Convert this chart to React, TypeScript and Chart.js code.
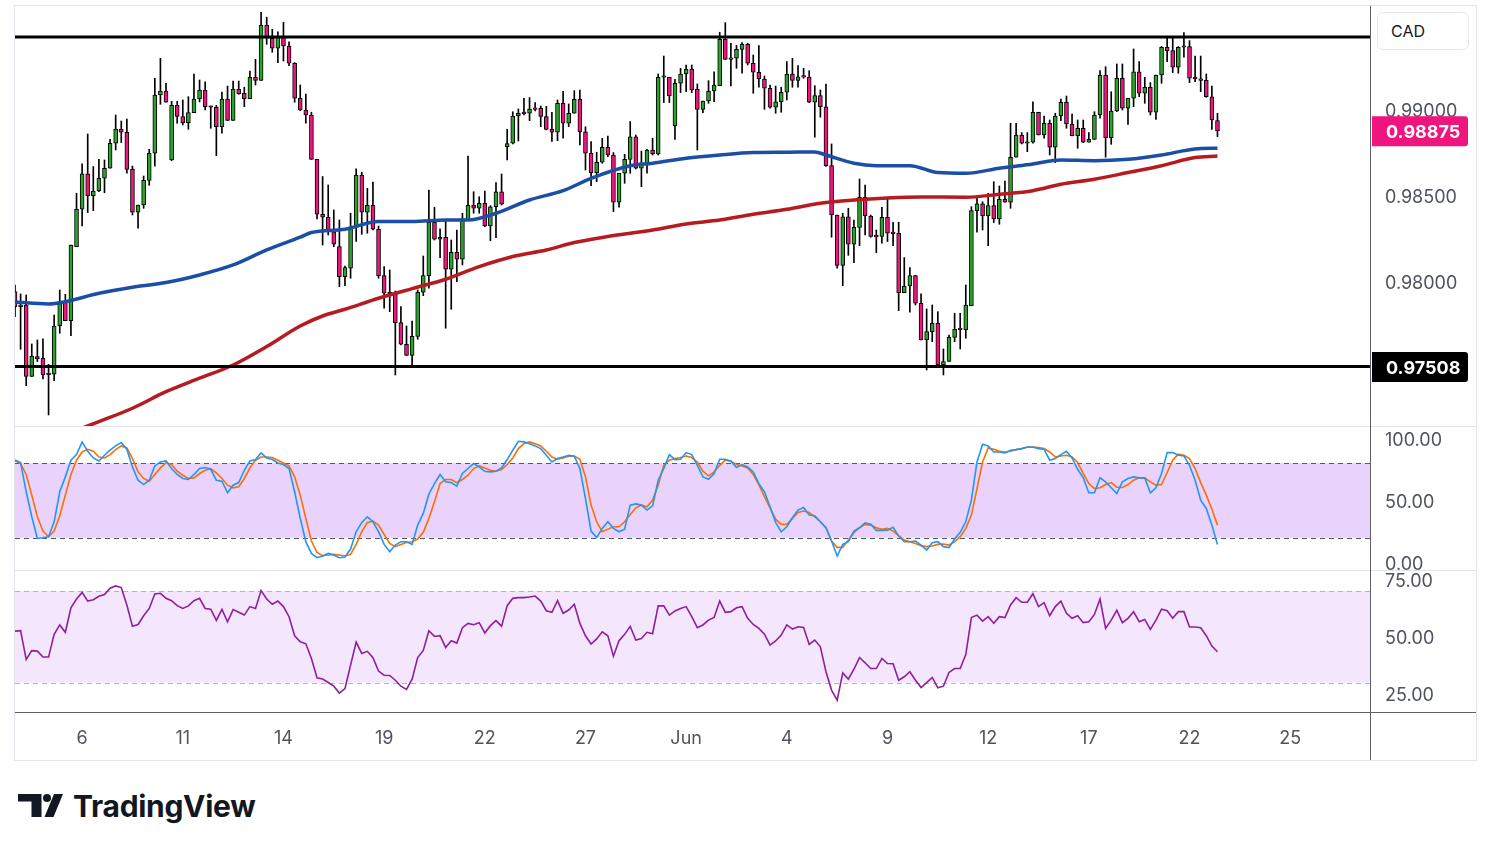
import React, { useEffect, useRef } from 'react';
import { Chart, registerables } from 'chart.js';
Chart.register(...registerables);

// ---------- DATA ----------
const openPrices = [
  0.97942,0.97855,0.97865,0.97450,0.97565,0.97556,0.97463,0.97463,0.97743,0.97880,
  0.97774,0.98203,0.98420,0.98625,0.98499,0.98526,0.98600,0.98658,0.98803,0.98886,
  0.98867,0.98652,0.98403,0.98445,0.98588,0.98745,0.99083,0.99106,0.98706,0.99023,
  0.98958,0.98923,0.98981,0.99060,0.99112,0.99019,0.99012,0.98899,0.99060,0.98936,
  0.99116,0.99093,0.99062,0.99186,0.99168,0.99489,0.99412,0.99354,0.99418,0.99367,
  0.99267,0.99064,0.98996,0.98967,0.98710,0.98391,0.98374,0.98290,0.98203,0.98029,
  0.98078,0.98319,0.98619,0.98403,0.98443,0.98304,0.98035,0.97937,0.97929,0.97763,
  0.97637,0.97573,0.97683,0.97939,0.98035,0.98345,0.98246,0.98258,0.98072,0.98171,
  0.98130,0.98358,0.98443,0.98426,0.98455,0.98323,0.98435,0.98521,0.98783,0.98803,
  0.98961,0.98977,0.98977,0.99006,0.99006,0.98958,0.98884,0.98867,0.99035,0.98919,
  0.98977,0.99058,0.98870,0.98745,0.98633,0.98693,0.98780,0.98735,0.98461,0.98629,
  0.98710,0.98841,0.98658,0.98687,0.98764,0.98741,0.99186,0.99186,0.98905,0.99151,
  0.99205,0.99232,0.99116,0.99000,0.99048,0.99106,0.99137,0.99406,0.99290,0.99296,
  0.99348,0.99377,0.99267,0.99215,0.99176,0.99122,0.99012,0.99044,0.99099,0.99205,
  0.99168,0.99189,0.99187,0.99041,0.99079,0.99015,0.98673,0.98387,0.98095,0.98377,
  0.98217,0.98315,0.98490,0.98381,0.98262,0.98262,0.98374,0.98281,0.98281,0.97937,
  0.97975,0.98035,0.97875,0.97662,0.97710,0.97759,0.97517,0.97537,0.97677,0.97724,
  0.97720,0.97861,0.98412,0.98451,0.98381,0.98441,0.98364,0.98478,0.98461,0.98722,
  0.98851,0.98803,0.98809,0.98983,0.98851,0.98919,0.98780,0.98961,0.99041,0.98915,
  0.98847,0.98890,0.98809,0.98826,0.98967,0.99199,0.98836,0.98990,0.99180,0.99006,
  0.99064,0.99218,0.99093,0.99128,0.98983,0.99199,0.99360,0.99340,0.99244,0.99360,
  0.99364,0.99180,0.99174,0.99168,0.99073,0.98934,
];
const highPrices = [
  0.97981,0.97929,0.97923,0.97639,0.97662,0.97668,0.97521,0.97807,0.97952,0.97927,
  0.98213,0.98513,0.98683,0.98857,0.98668,0.98710,0.98706,0.98826,0.98967,0.98932,
  0.98944,0.98671,0.98445,0.98613,0.98768,0.99180,0.99296,0.99151,0.99046,0.99046,
  0.99054,0.99073,0.99205,0.99170,0.99160,0.99019,0.99023,0.99100,0.99135,0.99164,
  0.99164,0.99128,0.99222,0.99290,0.99563,0.99534,0.99464,0.99450,0.99505,0.99391,
  0.99271,0.99141,0.99089,0.98983,0.98710,0.98610,0.98561,0.98416,0.98358,0.98091,
  0.98397,0.98654,0.98635,0.98542,0.98578,0.98323,0.98087,0.98068,0.97946,0.97855,
  0.97743,0.97772,0.97952,0.98149,0.98532,0.98432,0.98306,0.98358,0.98242,0.98300,
  0.98397,0.98729,0.98522,0.98493,0.98526,0.98441,0.98575,0.98625,0.98884,0.98986,
  0.99002,0.99064,0.99068,0.99039,0.99019,0.99017,0.98983,0.99054,0.99104,0.99031,
  0.99108,0.99112,0.98899,0.98813,0.98751,0.98832,0.98845,0.98749,0.98629,0.98739,
  0.98929,0.98851,0.98758,0.98768,0.98832,0.99205,0.99309,0.99186,0.99174,0.99238,
  0.99257,0.99257,0.99147,0.99048,0.99166,0.99218,0.99447,0.99503,0.99383,0.99371,
  0.99387,0.99383,0.99315,0.99369,0.99193,0.99141,0.99135,0.99128,0.99277,0.99296,
  0.99253,0.99238,0.99224,0.99137,0.99112,0.99147,0.98799,0.98387,0.98397,0.98426,
  0.98358,0.98596,0.98561,0.98387,0.98300,0.98432,0.98490,0.98345,0.98345,0.98140,
  0.98082,0.98037,0.97929,0.97842,0.97865,0.97826,0.97610,0.97691,0.97817,0.97817,
  0.97981,0.98435,0.98484,0.98464,0.98513,0.98580,0.98555,0.98584,0.98919,0.98919,
  0.98865,0.98865,0.99044,0.98983,0.98961,0.98938,0.98977,0.99060,0.99077,0.98973,
  0.98938,0.98938,0.98865,0.98986,0.99224,0.99247,0.99102,0.99263,0.99263,0.99064,
  0.99350,0.99277,0.99186,0.99155,0.99199,0.99364,0.99422,0.99418,0.99364,0.99445,
  0.99398,0.99309,0.99309,0.99205,0.99135,0.98977,
];
const lowPrices = [
  0.97797,0.97608,0.97397,0.97450,0.97537,0.97436,0.97227,0.97426,0.97701,0.97774,
  0.97687,0.98203,0.98323,0.98401,0.98412,0.98522,0.98516,0.98658,0.98764,0.98807,
  0.98629,0.98387,0.98310,0.98426,0.98559,0.98671,0.99029,0.99041,0.98702,0.98919,
  0.98909,0.98884,0.98981,0.99043,0.98996,0.98890,0.98731,0.98861,0.98934,0.98936,
  0.99087,0.99015,0.99062,0.99141,0.99168,0.99377,0.99331,0.99271,0.99280,0.99253,
  0.99041,0.98992,0.98919,0.98710,0.98364,0.98213,0.98271,0.98203,0.97971,0.97977,
  0.98020,0.98233,0.98275,0.98281,0.98300,0.98020,0.97846,0.97826,0.97459,0.97633,
  0.97573,0.97513,0.97666,0.97919,0.97962,0.98242,0.98140,0.97730,0.97840,0.98000,
  0.98097,0.98354,0.98397,0.98397,0.98319,0.98238,0.98256,0.98445,0.98706,0.98799,
  0.98816,0.98967,0.98934,0.98991,0.98899,0.98880,0.98813,0.98818,0.98832,0.98899,
  0.98977,0.98793,0.98648,0.98557,0.98580,0.98687,0.98725,0.98407,0.98432,0.98571,
  0.98629,0.98654,0.98551,0.98629,0.98735,0.98735,0.99039,0.99039,0.98826,0.99097,
  0.99102,0.99097,0.98764,0.98981,0.99035,0.99044,0.99137,0.99290,0.99135,0.99238,
  0.99209,0.99257,0.99093,0.99128,0.99000,0.99006,0.98977,0.98983,0.99054,0.99128,
  0.99128,0.99180,0.99039,0.98838,0.98954,0.98668,0.98258,0.98078,0.97977,0.98153,
  0.98111,0.98209,0.98271,0.98258,0.98169,0.98223,0.98233,0.98209,0.97832,0.97937,
  0.97823,0.97865,0.97662,0.97488,0.97652,0.97513,0.97459,0.97537,0.97652,0.97610,
  0.97672,0.97861,0.98287,0.98300,0.98209,0.98343,0.98333,0.98461,0.98426,0.98722,
  0.98799,0.98754,0.98803,0.98851,0.98832,0.98735,0.98691,0.98934,0.98890,0.98845,
  0.98774,0.98807,0.98809,0.98826,0.98948,0.98722,0.98797,0.98986,0.98996,0.98913,
  0.99015,0.99073,0.99035,0.98967,0.98942,0.99151,0.99277,0.99213,0.99209,0.99302,
  0.99155,0.99160,0.99102,0.99070,0.98884,0.98841,
];
const closePrices = [
  0.97855,0.97865,0.97450,0.97569,0.97552,0.97459,0.97461,0.97743,0.97880,0.97774,
  0.98213,0.98420,0.98625,0.98499,0.98526,0.98600,0.98658,0.98803,0.98886,0.98867,
  0.98652,0.98403,0.98445,0.98588,0.98745,0.99083,0.99106,0.99041,0.99023,0.98958,
  0.98923,0.98981,0.99060,0.99112,0.99015,0.99012,0.98899,0.99060,0.98936,0.99118,
  0.99091,0.99062,0.99186,0.99168,0.99489,0.99412,0.99354,0.99418,0.99367,0.99267,
  0.99064,0.98996,0.98967,0.98710,0.98391,0.98374,0.98290,0.98217,0.98029,0.98082,
  0.98319,0.98619,0.98403,0.98443,0.98304,0.98035,0.97933,0.97929,0.97763,0.97637,
  0.97573,0.97683,0.97939,0.98035,0.98345,0.98246,0.98258,0.98072,0.98171,0.98130,
  0.98364,0.98443,0.98426,0.98455,0.98323,0.98435,0.98521,0.98449,0.98801,0.98961,
  0.98977,0.98975,0.99002,0.99000,0.98958,0.98884,0.98867,0.99035,0.98919,0.98977,
  0.99058,0.98870,0.98745,0.98633,0.98693,0.98780,0.98735,0.98461,0.98629,0.98710,
  0.98841,0.98658,0.98687,0.98764,0.98741,0.99186,0.99188,0.99079,0.99151,0.99205,
  0.99232,0.99112,0.99000,0.99048,0.99106,0.99141,0.99406,0.99290,0.99296,0.99348,
  0.99377,0.99267,0.99215,0.99176,0.99122,0.99012,0.99044,0.99099,0.99205,0.99168,
  0.99189,0.99187,0.99041,0.99079,0.99015,0.98673,0.98387,0.98095,0.98377,0.98217,
  0.98315,0.98490,0.98381,0.98262,0.98260,0.98374,0.98281,0.98279,0.97937,0.97975,
  0.98035,0.97875,0.97662,0.97710,0.97759,0.97517,0.97537,0.97677,0.97724,0.97722,
  0.97865,0.98412,0.98451,0.98381,0.98441,0.98364,0.98478,0.98461,0.98722,0.98851,
  0.98803,0.98809,0.98983,0.98851,0.98919,0.98780,0.98961,0.99041,0.98915,0.98847,
  0.98890,0.98809,0.98826,0.98967,0.99199,0.98836,0.98990,0.99180,0.99006,0.99064,
  0.99218,0.99093,0.99128,0.98983,0.99199,0.99360,0.99340,0.99244,0.99360,0.99364,
  0.99180,0.99178,0.99168,0.99073,0.98938,0.98875,
];

// moving averages (candle index, value)
const maBlueIdx = [0,6,9,15,21,27,33,39,45,51,53,59,65,71,77,81,86,92,98,103,110,114,120,126,132,138,143,145,150,154,160,165,170,176,182,187,193,199,205,211,215];
const maBlueVal = [0.97882,0.97871,0.97884,0.97933,0.97968,0.97995,0.98039,0.98097,0.98184,0.98258,
  0.98285,0.98304,0.98349,0.98349,0.98358,0.98358,0.98397,0.98474,0.98528,0.98600,
  0.98673,0.98687,0.98716,0.98735,0.98749,0.98751,0.98753,0.98735,0.98687,0.98673,
  0.98673,0.98633,0.98629,0.98658,0.98683,0.98706,0.98702,0.98710,0.98735,0.98770,0.98774];
const maRedIdx = [0,13,15,21,27,33,39,45,51,55,59,65,71,77,83,89,95,100,106,114,120,126,132,138,144,150,156,162,170,176,182,187,193,199,205,211,215];
const maRedVal = [0.96995,0.97163,0.97188,0.97266,0.97362,0.97440,0.97517,0.97624,0.97743,0.97801,
  0.97840,0.97904,0.97960,0.98014,0.98087,0.98146,0.98184,0.98227,0.98262,0.98300,
  0.98335,0.98358,0.98391,0.98420,0.98455,0.98474,0.98486,0.98492,0.98490,0.98507,
  0.98528,0.98565,0.98594,0.98633,0.98673,0.98720,0.98729];

const levels = [0.9942, 0.97508];
const lastPrice = 0.98875;

const stochK = [
  82.6,80.5,57.0,36.9,19.5,20.1,20.9,32.9,57.0,69.0,
  82.4,86.9,97.1,89.6,84.2,81.8,86.4,90.4,93.9,96.5,
  91.2,77.0,66.3,62.8,66.3,77.8,81.0,81.8,75.7,70.9,
  67.7,66.9,70.9,75.7,76.5,75.1,66.3,65.5,56.2,62.3,
  64.4,74.3,81.8,82.9,88.2,84.2,82.9,80.2,78.9,75.7,
  57.0,35.6,16.9,7.5,4.0,5.4,7.5,6.2,4.0,4.6,
  11.0,24.9,32.4,36.9,32.9,24.9,14.7,8.8,14.2,16.9,
  16.9,14.7,30.2,39.6,55.1,63.6,70.9,65.0,64.4,61.5,
  71.7,75.7,79.7,77.0,73.5,73.0,73.5,76.2,82.9,90.4,
  97.6,97.1,95.7,93.9,91.7,86.4,81.0,83.7,85.0,86.4,
  85.6,75.7,51.6,25.4,20.3,27.6,32.9,27.6,24.9,
  27.0,46.3,47.3,46.3,42.3,45.7,66.3,75.7,86.9,82.9,
  83.2,88.5,86.9,78.3,69.0,67.1,71.7,83.2,83.2,81.6,
  76.5,78.9,77.0,73.0,63.6,57.0,44.9,32.4,24.9,28.9,
  36.1,42.3,44.4,38.3,37.7,32.9,28.1,17.4,5.4,14.7,
  16.9,25.4,28.1,32.1,31.0,26.0,26.0,26.2,28.4,21.4,
  16.9,16.9,17.4,14.2,10.2,16.1,16.9,12.9,12.1,19.0,
  24.4,32.9,50.3,81.0,95.2,93.9,89.0,89.0,88.2,90.4,
  90.9,91.7,93.0,93.0,91.7,91.2,82.4,83.7,86.9,89.6,
  84.2,75.1,68.2,56.2,56.2,68.2,65.0,60.2,55.6,65.0,
  67.7,69.0,68.2,68.2,56.2,60.2,71.7,88.5,88.5,86.4,
  85.8,78.3,66.3,50.3,43.6,30.2,14.7,
];
const stochD = [
  81.8,79.7,70.9,54.3,36.9,25.4,20.9,25.4,37.7,54.3,
  70.9,82.4,89.0,91.2,89.6,85.0,84.2,86.9,90.9,93.9,
  92.2,83.7,73.0,67.7,65.5,70.9,76.2,80.5,78.9,73.5,
  70.3,67.7,68.2,71.7,74.3,75.7,72.2,67.7,62.3,60.2,
  61.0,67.7,76.2,82.4,85.0,85.0,84.5,82.4,80.2,77.8,
  69.0,54.3,35.6,17.4,8.3,5.6,6.2,6.7,6.2,5.4,
  6.7,14.7,24.9,32.4,33.4,30.2,22.8,15.5,12.9,14.7,
  16.3,16.9,19.0,24.4,35.6,48.9,63.6,66.9,66.9,64.4,
  66.9,70.3,75.7,77.8,76.2,74.3,73.5,74.9,78.9,84.2,
  91.7,95.7,97.1,95.7,93.9,89.6,85.0,83.2,84.2,85.6,
  85.8,83.2,69.0,46.3,32.9,24.9,27.0,28.9,28.9,
  32.9,38.8,44.1,46.3,44.9,50.3,62.3,78.3,82.4,83.7,
  84.5,85.8,84.5,81.0,73.5,69.8,73.0,78.3,82.4,81.6,
  78.9,77.8,76.2,70.9,62.8,53.0,44.1,35.0,30.8,30.8,
  35.6,40.4,41.5,40.4,36.9,32.9,28.1,17.4,12.3,12.3,
  18.2,24.1,28.1,30.8,30.2,28.1,26.8,27.6,25.4,21.7,
  18.2,16.9,15.5,13.7,12.9,13.4,14.7,15.0,14.2,16.9,
  20.9,27.6,38.3,59.6,81.0,92.2,91.2,89.6,89.0,89.6,
  90.9,91.7,92.8,93.0,92.5,91.7,89.0,85.0,85.8,86.4,
  85.0,80.5,71.7,63.6,59.6,60.2,62.8,64.4,60.7,60.4,
  62.8,66.3,68.2,68.2,65.0,62.3,62.8,72.5,82.4,87.2,
  86.4,83.7,75.7,64.4,54.3,43.1,30.2,
];
const rsiValues = [
  52.4,52.6,40.1,43.9,43.7,41.1,41.1,51.0,55.1,51.9,
  62.6,66.4,69.3,65.5,66.1,67.6,68.4,71.1,72.1,71.4,
  63.8,54.5,55.3,59.1,62.3,68.6,68.9,66.7,65.7,63.5,
  62.3,63.4,65.7,66.7,62.3,62.0,57.1,61.9,56.5,61.8,
  60.6,59.4,63.1,62.3,70.1,66.4,64.1,65.5,63.1,58.7,
  50.4,47.8,46.9,40.5,32.1,31.5,30.0,28.4,25.4,27.4,
  37.6,47.6,42.7,43.6,40.8,35.0,33.2,33.1,31.0,28.4,
  27.0,31.5,40.9,44.0,52.6,50.1,50.4,45.3,48.2,47.2,
  53.9,55.8,55.2,56.1,51.6,54.8,57.0,54.6,63.5,66.7,
  67.0,67.0,67.3,67.7,65.5,61.3,60.6,65.7,60.2,61.6,
  64.1,55.8,50.4,46.8,49.0,52.1,50.4,41.5,48.2,
  51.0,54.5,48.5,49.2,51.9,51.3,63.4,63.4,59.4,61.2,
  62.3,63.1,58.7,53.9,55.1,57.2,58.4,65.5,60.6,60.9,
  62.6,63.1,58.0,55.3,53.6,51.1,46.3,48.1,50.7,55.1,
  53.3,54.3,54.0,46.6,48.5,45.6,34.7,26.7,22.3,34.2,
  31.5,35.8,40.9,38.6,36.1,36.1,40.5,38.3,38.2,31.0,
  32.5,34.7,31.0,27.8,30.0,32.2,27.7,28.4,34.4,36.1,
  36.1,42.2,58.3,59.4,56.8,58.7,55.8,58.7,58.3,63.8,
  67.0,65.0,65.0,68.7,63.1,64.8,59.1,63.1,65.5,60.2,
  58.0,59.1,56.1,56.5,59.7,66.4,53.6,57.2,61.5,56.1,
  58.0,60.9,56.5,57.5,53.2,57.2,62.0,61.3,58.0,60.9,
  60.9,54.2,54.2,53.9,50.4,45.9,43.4,
];

const xTickIdx = [12, 30, 48, 66, 84, 102, 120, 138, 156, 174, 192, 210, 228];
const xTickLabels = ['6', '11', '14', '19', '22', '27', 'Jun', '4', '9', '12', '17', '22', '25'];
const priceTicks = [0.98, 0.985, 0.99];
const stochTicks = [0, 50, 100];
const rsiTicks = [25, 50, 75];
const stochBand = [20, 80];
const rsiBand = [30, 70];

// ---------- STYLE ----------
const FONT = 'Inter, "DejaVu Sans", sans-serif';
const TEXT = '#4f5260';
const GREEN = '#2ba32b';
const PINK = '#f0157e';
const X_MIN = 0;
const X_MAX = 242.45;
const AXIS_W = 105;
const LABEL_DY = 2;

const idx = closePrices.map((_, i) => i);

function yAxis(min: number, max: number, ticks: number[]) {
  return {
    type: 'linear',
    position: 'right',
    min,
    max,
    grid: { display: false, drawTicks: false },
    border: { display: false },
    afterBuildTicks: (s: any) => { s.ticks = ticks.map((v) => ({ value: v })); },
    afterFit: (s: any) => { s.width = AXIS_W; s.paddingTop = 0; s.paddingBottom = 0; },
    ticks: { display: false },
  };
}

// draws the right-hand axis labels at the scale's own pixel positions
function yLabelPlugin(id: string, ticks: number[], digits: number) {
  return {
    id,
    afterDraw(chart: any) {
      const { ctx, chartArea, scales } = chart;
      ctx.save();
      ctx.fillStyle = TEXT;
      ctx.font = `18px ${FONT}`;
      ctx.textBaseline = 'middle';
      ctx.textAlign = 'left';
      ticks.forEach((v) => {
        ctx.fillText(v.toFixed(digits), chartArea.right + 14, scales.y.getPixelForValue(v) + LABEL_DY);
      });
      ctx.restore();
    },
  };
}

const hiddenX = { type: 'linear', min: X_MIN, max: X_MAX, offset: false, display: false };

const baseOptions = {
  responsive: true,
  maintainAspectRatio: false,
  animation: false,
  events: [] as any[],
  layout: { padding: 0 },
  plugins: { legend: { display: false }, tooltip: { enabled: false } },
};

function bandPlugin(id: string, band: number[], fill: string, line: string, dash: number[]) {
  return {
    id,
    beforeDatasetsDraw(chart: any) {
      const { ctx, chartArea, scales } = chart;
      const yLo = scales.y.getPixelForValue(band[0]);
      const yHi = scales.y.getPixelForValue(band[1]);
      ctx.save();
      ctx.fillStyle = fill;
      ctx.fillRect(chartArea.left, yHi, chartArea.right - chartArea.left, yLo - yHi);
      ctx.strokeStyle = line;
      ctx.lineWidth = 1;
      ctx.setLineDash(dash);
      [yLo, yHi].forEach((py) => {
        const yy = Math.round(py) + 0.5;
        ctx.beginPath();
        ctx.moveTo(chartArea.left, yy);
        ctx.lineTo(chartArea.right, yy);
        ctx.stroke();
      });
      ctx.restore();
    },
  };
}

const priceTagPlugin = {
  id: 'priceTags',
  afterDraw(chart: any) {
    const { ctx, chartArea, scales } = chart;
    const tags = [
      { v: lastPrice, bg: PINK },
      { v: levels[1], bg: '#000000' },
    ];
    tags.forEach((t) => {
      const py = scales.y.getPixelForValue(t.v) + 0.5;
      const x0 = chartArea.right + 1;
      const w = 96;
      const h = 30;
      ctx.save();
      ctx.fillStyle = t.bg;
      ctx.beginPath();
      if (ctx.roundRect) ctx.roundRect(x0, py - h / 2, w, h, [0, 3, 3, 0]);
      else ctx.rect(x0, py - h / 2, w, h);
      ctx.fill();
      ctx.fillStyle = '#ffffff';
      ctx.font = `bold 18px ${FONT}`;
      ctx.textBaseline = 'middle';
      ctx.textAlign = 'left';
      ctx.fillText(t.v.toFixed(5), chartArea.right + 15, py + LABEL_DY - 0.5);
      ctx.restore();
    });
  },
};

export default function App() {
  const priceRef = useRef<HTMLCanvasElement>(null);
  const stochRef = useRef<HTMLCanvasElement>(null);
  const rsiRef = useRef<HTMLCanvasElement>(null);

  useEffect(() => {
    const charts: Chart[] = [];
    const bodyColors = idx.map((i) => (closePrices[i] >= openPrices[i] ? GREEN : PINK));

    charts.push(new Chart(priceRef.current as HTMLCanvasElement, {
      type: 'bar',
      data: {
        datasets: [
          {
            type: 'line',
            data: [{ x: X_MIN, y: levels[0] }, { x: X_MAX, y: levels[0] }],
            borderColor: '#000000', borderWidth: 3, pointRadius: 0, order: 0,
          } as any,
          {
            type: 'line',
            data: [{ x: X_MIN, y: levels[1] }, { x: X_MAX, y: levels[1] }],
            borderColor: '#000000', borderWidth: 3, pointRadius: 0, order: 0,
          } as any,
          {
            type: 'line',
            data: maBlueIdx.map((x, k) => ({ x, y: maBlueVal[k] })),
            borderColor: '#1a4fa5', borderWidth: 3.5, pointRadius: 0,
            cubicInterpolationMode: 'monotone', order: 1,
          } as any,
          {
            type: 'line',
            data: maRedIdx.map((x, k) => ({ x, y: maRedVal[k] })),
            borderColor: '#b61b1f', borderWidth: 3.5, pointRadius: 0,
            cubicInterpolationMode: 'monotone', order: 1,
          } as any,
          {
            type: 'bar',
            data: idx.map((i) => ({ x: i, y: [lowPrices[i], highPrices[i]] })),
            backgroundColor: '#000000', borderWidth: 0, barThickness: 1,
            grouped: false, order: 3,
          } as any,
          {
            type: 'bar',
            data: idx.map((i) => ({ x: i, y: [openPrices[i], closePrices[i]] })),
            backgroundColor: bodyColors, borderColor: '#000000', borderWidth: 1,
            borderSkipped: false, barThickness: 4, minBarLength: 1.5,
            grouped: false, order: 2,
          } as any,
        ],
      },
      options: {
        ...baseOptions,
        scales: {
          x: hiddenX,
          y: yAxis(0.971572, 0.995992, priceTicks),
        },
      } as any,
      plugins: [yLabelPlugin('priceLabels', priceTicks, 5), priceTagPlugin],
    }));

    charts.push(new Chart(stochRef.current as HTMLCanvasElement, {
      type: 'line',
      data: {
        datasets: [
          {
            data: idx.map((i) => ({ x: i, y: stochK[i] })),
            borderColor: '#2196f3', borderWidth: 1.6, pointRadius: 0,
          },
          {
            data: idx.map((i) => ({ x: i, y: stochD[i] })),
            borderColor: '#ff6d00', borderWidth: 1.6, pointRadius: 0,
          },
        ],
      },
      options: {
        ...baseOptions,
        scales: {
          x: hiddenX,
          y: yAxis(-6.67, 109.08, stochTicks),
        },
      } as any,
      plugins: [
        bandPlugin('stochBand', stochBand, '#e9d2fc', '#555862', [5, 4]),
        yLabelPlugin('stochLabels', stochTicks, 2),
      ],
    }));

    charts.push(new Chart(rsiRef.current as HTMLCanvasElement, {
      type: 'line',
      data: {
        datasets: [
          {
            data: idx.map((i) => ({ x: i, y: rsiValues[i] })),
            borderColor: '#8e1f9e', borderWidth: 1.6, pointRadius: 0,
          },
        ],
      },
      options: {
        ...baseOptions,
        scales: {
          x: {
            type: 'linear', min: X_MIN, max: X_MAX, offset: false,
            grid: { display: false, drawTicks: false },
            border: { display: false },
            afterBuildTicks: (s: any) => { s.ticks = xTickIdx.map((v) => ({ value: v })); },
            afterFit: (s: any) => { s.height = 47; s.paddingLeft = 0; s.paddingRight = 0; },
            ticks: {
              padding: 15, color: TEXT, maxRotation: 0, autoSkip: false,
              font: { family: FONT, size: 18 },
              callback: (_v: any, k: number) => xTickLabels[k],
            },
          },
          y: yAxis(16.72, 78.62, rsiTicks),
        },
      } as any,
      plugins: [
        bandPlugin('rsiBand', rsiBand, '#f3e6fd', '#b4b4ba', [5, 4]),
        yLabelPlugin('rsiLabels', rsiTicks, 2),
      ],
    }));

    return () => charts.forEach((c) => c.destroy());
  }, []);

  const line = (s: React.CSSProperties): React.CSSProperties => ({ position: 'absolute', pointerEvents: 'none', ...s });

  return (
    <div style={{ position: 'absolute', left: 0, top: 0, width: 1491, height: 851, background: '#ffffff', overflow: 'hidden', fontFamily: FONT }}>
      <div style={{ position: 'absolute', left: 15, top: 6, width: 1461, height: 421 }}>
        <canvas ref={priceRef} />
      </div>
      <div style={{ position: 'absolute', left: 15, top: 427, width: 1461, height: 144 }}>
        <canvas ref={stochRef} />
      </div>
      <div style={{ position: 'absolute', left: 15, top: 571, width: 1461, height: 189 }}>
        <canvas ref={rsiRef} />
      </div>

      {/* frame */}
      <div style={line({ left: 14, top: 5, width: 1463, height: 756, border: '1px solid #e3e5ec', boxSizing: 'border-box' })} />
      <div style={line({ left: 15, top: 426, width: 1461, height: 1, background: '#e0e3eb' })} />
      <div style={line({ left: 15, top: 570, width: 1461, height: 1, background: '#e0e3eb' })} />
      <div style={line({ left: 15, top: 712, width: 1461, height: 1, background: '#5d606b' })} />
      <div style={line({ left: 1370, top: 6, width: 1, height: 754, background: '#5d606b' })} />

      {/* currency box */}
      <div style={{ position: 'absolute', left: 1377, top: 12, width: 92, height: 38, boxSizing: 'border-box', border: '1px solid #e6e8ee', borderRadius: 6, paddingLeft: 13, lineHeight: '36px', fontSize: 16, color: '#131722', background: '#fff' }}>CAD</div>

      {/* logo */}
      <svg style={{ position: 'absolute', left: 18, top: 794 }} width={46} height={24} viewBox="0 0 46 24">
        <path d="M0 0 H23.5 V23 H13.5 V7.5 H0 Z" fill="#131722" />
        <circle cx="29" cy="4" r="4" fill="#131722" />
        <path d="M36 0 H45 L35.5 23 H26.5 Z" fill="#131722" />
      </svg>
      <div style={{ position: 'absolute', left: 73, top: 791, fontSize: 30, lineHeight: '30px', fontWeight: 700, color: '#131722', letterSpacing: -0.3 }}>TradingView</div>
    </div>
  );
}
